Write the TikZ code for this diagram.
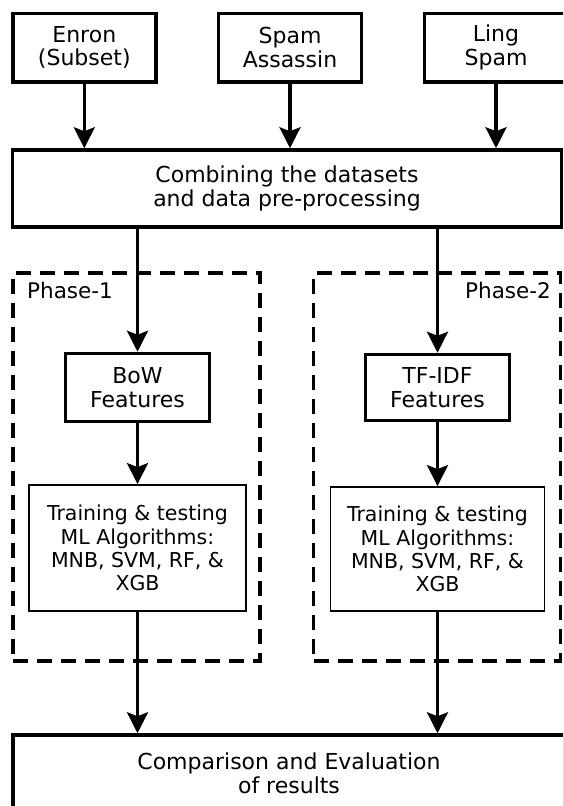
\documentclass[tikz,border=0pt]{standalone}
\usepackage{fontspec}
\setmainfont{DejaVu Sans}
\usetikzlibrary{arrows.meta}

\begin{document}
\begin{tikzpicture}[x=1pt,y=-1pt,>={Stealth[length=21pt,width=21pt,inset=4pt]},
  thick box/.style={draw,line width=3.5pt,align=center,font=\fontsize{22}{23.5}\selectfont},
  thin box/.style={draw,line width=1.8pt,align=center,font=\fontsize{20.5}{23.3}\selectfont},
  phase box/.style={draw,dash pattern=on 15pt off 9pt,line width=3.2pt,minimum width=247pt,minimum height=388pt},
  phase label/.style={inner sep=0pt,font=\fontsize{21.5}{25}\selectfont},
  flow/.style={->,line width=3.2pt}]

  \useasboundingbox (0,0) rectangle (563,806);
  \clip (0,0) rectangle (563,806);

  % data sets
  \node[thick box,minimum width=143pt,minimum height=68.5pt] (enron) at (84.3,47.5) {Enron\\(Subset)};
  \node[thick box,minimum width=143pt,minimum height=68.5pt] (sa) at (290,47.5) {Spam\\Assassin};
  \node[thick box,minimum width=143pt,minimum height=68.5pt] (ling) at (496,47.5) {Ling\\Spam};

  \node[thick box,minimum width=549pt,minimum height=77pt] (comb) at (287,188.5) {Combining the datasets\\and data pre-processing};

  % the two phases
  \node[phase box] (p1) at (136.5,467) {};
  \node[phase box] (p2) at (437,467) {};
  \node[phase label,anchor=west] (p1lab) at (27,290) {Phase-1};
  \node[phase label,anchor=east] (p2lab) at (551,290) {Phase-2};

  \node[thick box,minimum width=144pt,minimum height=68pt] (bow) at (137.5,387.5) {BoW\\Features};
  \node[thick box,minimum width=144pt,minimum height=66pt] (tfidf) at (437.5,387.5) {TF-IDF\\Features};

  \node[thin box,minimum width=217pt,minimum height=126pt] (train1) at (137.5,548) {Training \& testing\\ML Algorithms:\\MNB, SVM, RF, \&\\XGB};
  \node[thin box,minimum width=214pt,minimum height=124pt] (train2) at (437.5,549) {Training \& testing\\ML Algorithms:\\MNB, SVM, RF, \&\\XGB};

  \node[thick box,minimum width=552pt,minimum height=77pt] (res) at (289,773.5) {Comparison and Evaluation\\of results};

  \path[flow]
    (enron) edge (enron |- comb.north)
    (sa) edge (sa |- comb.north)
    (ling) edge (ling |- comb.north)
    (comb.south -| bow) edge (bow)
    (comb.south -| tfidf) edge (tfidf)
    (bow) edge (train1)
    (tfidf) edge (train2)
    (train1) edge (train1 |- res.north)
    (train2) edge (train2 |- res.north);
\end{tikzpicture}
\end{document}
